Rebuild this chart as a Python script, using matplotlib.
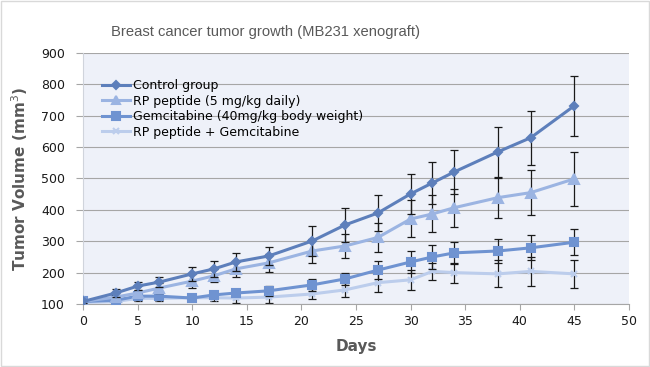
import matplotlib.pyplot as plt
from matplotlib.patches import Rectangle

days = [0, 3, 5, 7, 10, 12, 14, 17, 21, 24, 27, 30, 32, 34, 38, 41, 45]

control = [108, 135, 157, 170, 196, 212, 234, 253, 301, 352, 390, 451, 486, 521, 585, 630, 732]
control_err = [5, 12, 12, 15, 22, 25, 28, 28, 48, 54, 58, 63, 68, 70, 80, 86, 95]

rp = [108, 122, 135, 151, 173, 190, 212, 231, 269, 285, 312, 371, 387, 407, 439, 455, 499]
rp_err = [5, 8, 10, 15, 22, 20, 26, 29, 38, 38, 45, 59, 59, 60, 64, 72, 86]

gem = [108, 112, 125, 125, 119, 129, 135, 142, 161, 180, 208, 234, 250, 263, 269, 279, 297]
gem_err = [5, 6, 8, 10, 10, 10, 10, 15, 19, 20, 29, 34, 37, 36, 37, 40, 42]

combo = [105, 108, 118, 118, 120, 120, 119, 122, 132, 145, 168, 177, 204, 200, 196, 204, 196]
combo_err = [4, 6, 8, 10, 10, 12, 15, 19, 16, 23, 30, 32, 27, 32, 43, 47, 45]

labels = ['Control group', 'RP peptide (5 mg/kg daily)',
          'Gemcitabine (40mg/kg body weight)', 'RP peptide + Gemcitabine']


def main():
    fig = plt.figure(figsize=(6.5, 3.67), dpi=100)
    ax = fig.add_axes([83 / 650, 1 - 304 / 367, 546 / 650, 251 / 367])
    ax.set_facecolor('#eef1f9')

    series = [
        (combo, combo_err, '#bccdec', 'x', 5),
        (gem, gem_err, '#6f93d1', 's', 6),
        (rp, rp_err, '#9bb4e2', '^', 6.5),
        (control, control_err, '#5d7fbb', 'D', 4.5),
    ]
    handles = {}
    for i, (vals, err, col, mk, ms) in enumerate(series):
        ax.errorbar(days, vals, yerr=err, fmt='none', ecolor='#1a1a1a',
                    elinewidth=0.9, capsize=3, capthick=0.9, zorder=2 + i)
        h, = ax.plot(days, vals, color=col, lw=2.2, marker=mk, ms=ms,
                     mec=col, mfc=col, mew=1.5, zorder=3 + i)
        handles[i] = h

    order = [handles[3], handles[2], handles[1], handles[0]]
    ax.legend(order, labels, loc='upper left', bbox_to_anchor=(0.025, 0.915),
              frameon=False, fontsize=9, handlelength=2.3, handletextpad=0.2,
              labelspacing=0.2, borderaxespad=0, markerscale=0.85)

    ax.set_xlim(0, 50)
    ax.set_ylim(100, 900)
    ax.set_xticks(range(0, 51, 5))
    ax.set_yticks(range(100, 901, 100))
    ax.grid(axis='y', color='#a6a6a6', lw=0.8)
    ax.set_axisbelow(True)
    for s in ['top', 'right']:
        ax.spines[s].set_visible(False)
    ax.spines['left'].set_color('#d0d4dc')
    ax.spines['bottom'].set_color('#a6a6a6')
    ax.tick_params(axis='y', length=5, color='#a6a6a6', labelsize=9,
                   labelcolor='#1a1a1a', pad=8)
    ax.tick_params(axis='x', length=4, color='#a6a6a6', labelsize=9,
                   labelcolor='#1a1a1a', pad=4)

    ax.set_xlabel('Days', fontsize=11, fontweight='bold', color='#595959',
                  labelpad=8)
    ax.set_ylabel('Tumor Volume (mm$^3$)', fontsize=11, fontweight='bold',
                  color='#595959', labelpad=8)
    fig.text(0.408, 0.894, 'Breast cancer tumor growth (MB231 xenograft)',
             ha='center', va='bottom', fontsize=10.6, color='#595959',
             family='Liberation Sans')

    fig.patches.append(Rectangle((0.001, 0.002), 0.997, 0.995,
                                 transform=fig.transFigure, fill=False,
                                 ec='#d9d9d9', lw=1))
    plt.savefig('out.png', dpi=100)


if __name__ == "__main__":
    main()
